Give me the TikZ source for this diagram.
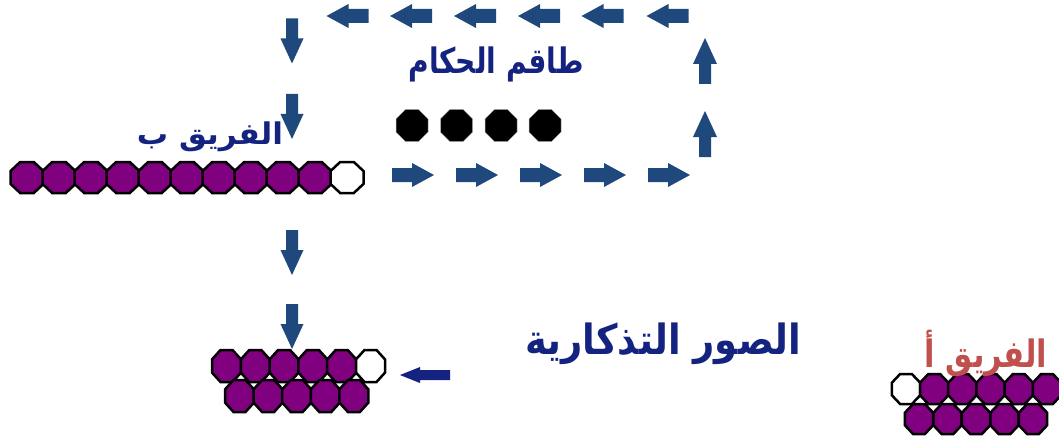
\documentclass[tikz,border=0pt]{standalone}
\usepackage{fontspec}
\usepackage{graphicx}
\newfontfamily\arabicfont[Script=Arabic]{DejaVu Sans}
\TeXXeTstate=1
\definecolor{steel}{HTML}{1F497D}
\definecolor{navy}{HTML}{14237F}
\definecolor{teamred}{HTML}{C0504D}
\definecolor{purp}{HTML}{800080}
\tikzset{
  pics/oct/.style 2 args={code={
    \path[pic actions] ({-#1+0.586*#1},{-#2}) -- ({#1-0.586*#1},{-#2}) -- ({#1},{-#2+0.586*#2})
      -- ({#1},{#2-0.586*#2}) -- ({#1-0.586*#1},{#2}) -- ({-#1+0.586*#1},{#2})
      -- ({-#1},{#2-0.586*#2}) -- ({-#1},{-#2+0.586*#2}) -- cycle;}},
  pics/barrow/.style n args={4}{code={
    \path[pic actions] ({-#1/2},{-#4}) -- ({#1/2-#2},{-#4}) -- ({#1/2-#2},{-#3}) -- ({#1/2},0)
      -- ({#1/2-#2},{#3}) -- ({#1/2-#2},{#4}) -- ({-#1/2},{#4}) -- cycle;}},
  bead/.style={fill=purp,draw=black,line width=2.5pt,line join=miter},
  emptybead/.style={fill=white,draw=black,line width=2.5pt,line join=miter},
  refbead/.style={fill=black,draw=gray!60,line width=0.5pt},
  flowarrow/.style={fill=steel},
  label/.style={font=\arabicfont\bfseries\fontsize{26}{30}\selectfont,text=navy,inner sep=0pt}
}
\begin{document}
\begin{tikzpicture}[x=1pt,y=-1pt]
\useasboundingbox (0,0) rectangle (1059,441);
% top row arrows pointing left
\foreach \xx [count=\i] in {347.5,411,475,539,602.5,667.5}
  \pic[flowarrow,rotate=180] (la\i) at (\xx,16) {barrow={42}{22}{12}{7}};
% lower row arrows pointing right
\foreach \xx [count=\i] in {413,477,541,605,669}
  \pic[flowarrow] (ra\i) at (\xx,175) {barrow={42}{22}{12}{7}};
% up arrows
\foreach \yy [count=\i] in {61,134}
  \pic[flowarrow,rotate=90] (ua\i) at (705,\yy) {barrow={46}{26}{12}{6}};
% down arrows
\foreach \yy [count=\i] in {41,116.5,252.5,326.5}
  \pic[flowarrow,rotate=-90] (da\i) at (292,\yy) {barrow={45}{25}{11.5}{6}};
% referees
\foreach \xx [count=\i] in {412,456.5,501,545}
  \pic[refbead] (ref\i) at (\xx,125.5) {oct={16}{16}};
% team B line
\foreach \i in {0,...,9}
  \pic[bead] (b\i) at ({27+32*\i},177.5) {oct={16.5}{15.5}};
\pic[emptybead] (b10) at (347,177.5) {oct={16.5}{15.5}};
% group photo bottom-left
\foreach \i in {0,...,4}
  \pic[bead] (p\i) at ({226.5+28.8*\i},366) {oct={14.5}{16}};
\pic[emptybead] (p5) at (370.5,366) {oct={14.5}{16}};
\foreach \i in {0,...,4}
  \pic[bead] (q\i) at ({239.5+28.6*\i},396) {oct={14.5}{16}};
% team A
\pic[emptybead] (a0) at (906,389) {oct={14.2}{15}};
\foreach \i in {1,...,5}
  \pic[bead] (a\i) at ({906+28.2*\i},389) {oct={14.2}{15}};
\foreach \i in {0,...,4}
  \pic[bead] (c\i) at ({919+28.5*\i},419) {oct={14.2}{15}};
% navy arrow
\pic[fill=navy,rotate=180] (na) at (425,375) {barrow={50}{20}{8}{5}};
% labels
\node[label] (refs) at (496,64) {\scalebox{1.08}[1.35]{\beginR طاقم الحكام\endR}};
\node[label] (teamb) at (210,137) {\scalebox{1.2}[1.15]{\beginR الفريق ب\endR}};
\node[label] (photo) at (663,344) {\scalebox{1.42}[1.6]{\beginR الصور التذكارية\endR}};
\node[label,text=teamred] (teama) at (986,353) {\scalebox{1.17}[1.45]{\beginR الفريق أ\endR}};
\end{tikzpicture}
\end{document}
